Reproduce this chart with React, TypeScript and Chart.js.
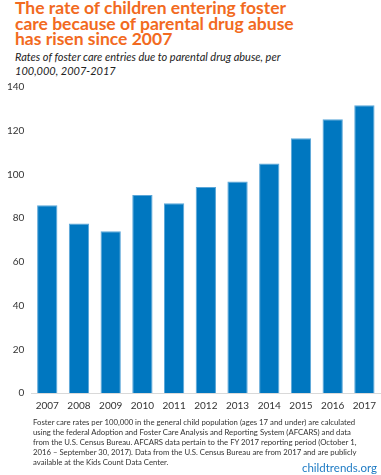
import React, { useEffect, useRef } from "react";
import { Chart, registerables } from "chart.js";

Chart.register(...registerables);

const years = ["2007", "2008", "2009", "2010", "2011", "2012", "2013", "2014", "2015", "2016", "2017"];
const rates = [85.9, 77.5, 74.0, 90.6, 86.8, 94.2, 96.8, 105.0, 116.5, 125.2, 131.6];
const yTicks = [0, 20, 40, 60, 80, 100, 120, 140];

const titleLines = [
  "The rate of children entering foster",
  "care because of parental drug abuse",
  "has risen since 2007",
];
const subtitleLines = [
  "Rates of foster care entries due to parental drug abuse, per",
  "100,000, 2007-2017",
];
const noteLines = [
  "Foster care rates per 100,000 in the general child population (ages 17 and under) are calculated",
  "using the federal Adoption and Foster Care Analysis and Reporting System (AFCARS) and data",
  "from the U.S. Census Bureau. AFCARS data pertain to the FY 2017 reporting period (October 1,",
  "2016 – September 30, 2017). Data from the U.S. Census Bureau are from 2017 and are publicly",
  "available at the Kids Count Data Center.",
];

export default function App() {
  const ref = useRef<HTMLCanvasElement | null>(null);

  useEffect(() => {
    document.body.style.margin = "0";
    if (!ref.current) return;
    const chart = new Chart(ref.current, {
      type: "bar",
      data: {
        labels: years,
        datasets: [
          {
            data: rates,
            backgroundColor: "#0077C0",
            borderColor: "#5aa6d8",
            borderWidth: { top: 1, left: 1, right: 1, bottom: 0 },
            barPercentage: 0.64,
            categoryPercentage: 1,
          },
        ],
      },
      options: {
        responsive: false,
        animation: false,
        layout: { padding: { top: 6, right: 0, left: 0, bottom: 0 } },
        plugins: { legend: { display: false }, tooltip: { enabled: false } },
        scales: {
          x: {
            grid: { display: false, drawTicks: false },
            border: { display: true, color: "#d9d9d9", width: 1 },
            ticks: { color: "#333", font: { family: "Lato", size: 10 }, padding: 7 },
          },
          y: {
            min: 0,
            max: 140,
            afterBuildTicks: (axis: any) => {
              axis.ticks = yTicks.map((v) => ({ value: v }));
            },
            grid: { display: false, drawTicks: false },
            border: { display: false },
            ticks: { color: "#333", font: { family: "Lato", size: 10 }, padding: 7 },
          },
        },
      },
    });
    return () => chart.destroy();
  }, []);

  return (
    <div style={{ position: "relative", width: 381, height: 475, background: "#fff", overflow: "hidden", fontFamily: "Lato" }}>
      <div style={{ position: "absolute", left: 15, top: 0, color: "#F26A21", fontWeight: 700, fontSize: 17.5, lineHeight: "15.5px", whiteSpace: "nowrap" }}>
        {titleLines.map((l, i) => (
          <div key={i}>{l}</div>
        ))}
      </div>
      <div style={{ position: "absolute", left: 15, top: 50, color: "#222", fontStyle: "italic", fontSize: 11, lineHeight: "14px", whiteSpace: "nowrap" }}>
        {subtitleLines.map((l, i) => (
          <div key={i}>{l}</div>
        ))}
      </div>
      <canvas ref={ref} width={383} height={345} style={{ position: "absolute", left: 0, top: 74, width: 383, height: 345 }} />
      <div style={{ position: "absolute", left: 33, top: 416.5, color: "#333", fontSize: 7.75, lineHeight: "10px", whiteSpace: "nowrap" }}>
        {noteLines.map((l, i) => (
          <div key={i}>{l}</div>
        ))}
      </div>
      <div style={{ position: "absolute", right: 4, top: 460, color: "#1E7BC4", fontSize: 11.5, lineHeight: "15px" }}>childtrends.org</div>
    </div>
  );
}
